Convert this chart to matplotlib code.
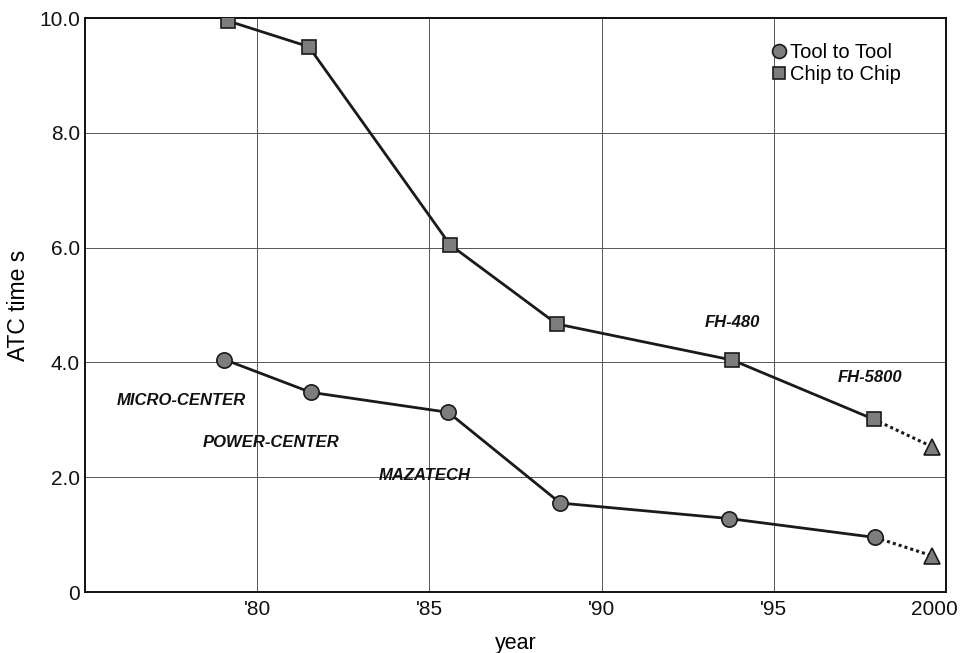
import matplotlib
matplotlib.use("Agg")
import matplotlib.pyplot as plt
from matplotlib.lines import Line2D
from matplotlib.transforms import ScaledTranslation

plt.rcParams["font.family"] = ["Liberation Sans", "DejaVu Sans"]

# ATC (automatic tool change) time by model year
chip_years = [1979.15, 1981.5, 1985.6, 1988.7, 1993.8, 1997.9]
chip_times = [9.95, 9.50, 6.05, 4.67, 4.04, 3.01]
tool_years = [1979.05, 1981.55, 1985.55, 1988.8, 1993.7, 1997.95]
tool_times = [4.05, 3.48, 3.13, 1.55, 1.28, 0.95]

# projected values for 2000
forecast_year = 1999.6
chip_forecast = 2.53
tool_forecast = 0.63

machine_names = ["MICRO-CENTER", "POWER-CENTER", "MAZATECH", "FH-480", "FH-5800"]
name_x = [1977.8, 1980.4, 1984.85, 1993.8, 1997.8]
name_y = [3.33, 2.60, 2.03, 4.69, 3.74]

x_ticks = [1980, 1985, 1990, 1995, 2000]
x_ticklabels = ["'80", "'85", "'90", "'95", "2000"]
y_ticks = [0, 2, 4, 6, 8, 10]
y_ticklabels = ["0", "2.0", "4.0", "6.0", "8.0", "10.0"]

FILL = "#7d7d7d"
EDGE = "#1a1a1a"

fig = plt.figure(figsize=(9.6, 6.53), dpi=100)
ax = fig.add_axes([0.0885, 0.0934, 0.8969, 0.879])

ax.set_xlim(1975, 2000)
ax.set_ylim(0, 10)
ax.set_xticks(x_ticks)
ax.set_xticklabels(x_ticklabels)
ax.set_yticks(y_ticks)
ax.set_yticklabels(y_ticklabels)
ax.tick_params(length=0, labelsize=15, colors="#111111")
ax.tick_params(axis="x", pad=6)
ax.tick_params(axis="y", pad=3.5)
ax.grid(True, color="#555555", linewidth=0.7)
ax.set_axisbelow(True)
for spine in ax.spines.values():
    spine.set_linewidth(1.4)
    spine.set_color("#111111")

# keep the last year label inside the figure
last = ax.get_xticklabels()[-1]
last.set_transform(last.get_transform()
                   + ScaledTranslation(-12 / 100, 0, fig.dpi_scale_trans))

# dotted projections to 2000
ax.plot([chip_years[-1], forecast_year], [chip_times[-1], chip_forecast],
        color=EDGE, linewidth=2.2, linestyle=(0, (1, 1)), zorder=2)
ax.plot([tool_years[-1], forecast_year], [tool_times[-1], tool_forecast],
        color=EDGE, linewidth=2.2, linestyle=(0, (1, 1)), zorder=2)
ax.plot([forecast_year, forecast_year], [chip_forecast, tool_forecast],
        linestyle="none", marker="^", markersize=11, markerfacecolor=FILL,
        markeredgecolor=EDGE, markeredgewidth=1.2, zorder=4)

ax.plot(chip_years, chip_times, color=EDGE, linewidth=2.0, marker="s",
        markersize=9.5, markerfacecolor=FILL, markeredgecolor=EDGE,
        markeredgewidth=1.2, zorder=3)
ax.plot(tool_years, tool_times, color=EDGE, linewidth=2.0, marker="o",
        markersize=11, markerfacecolor=FILL, markeredgecolor=EDGE,
        markeredgewidth=1.2, zorder=3)

for name, x, y in zip(machine_names, name_x, name_y):
    ax.text(x, y, name, ha="center", va="center", fontsize=12,
            fontstyle="italic", fontweight="bold", color="#111111")

ax.set_ylabel("ATC time s", fontsize=16.5, labelpad=7)
ax.set_xlabel("year", fontsize=15.5, labelpad=10)

handles = [
    Line2D([], [], linestyle="none", marker="o", markersize=10,
           markerfacecolor=FILL, markeredgecolor=EDGE, markeredgewidth=1.2),
    Line2D([], [], linestyle="none", marker="s", markersize=8.5,
           markerfacecolor=FILL, markeredgecolor=EDGE, markeredgewidth=1.2),
]
ax.legend(handles, ["Tool to Tool", "Chip to Chip"], loc="upper left",
          bbox_to_anchor=(0.781, 0.981), frameon=False, fontsize=14.5,
          handlelength=0.7, handletextpad=0.2, labelspacing=0.15,
          borderpad=0.2)

fig.savefig("out.png", dpi=100)
